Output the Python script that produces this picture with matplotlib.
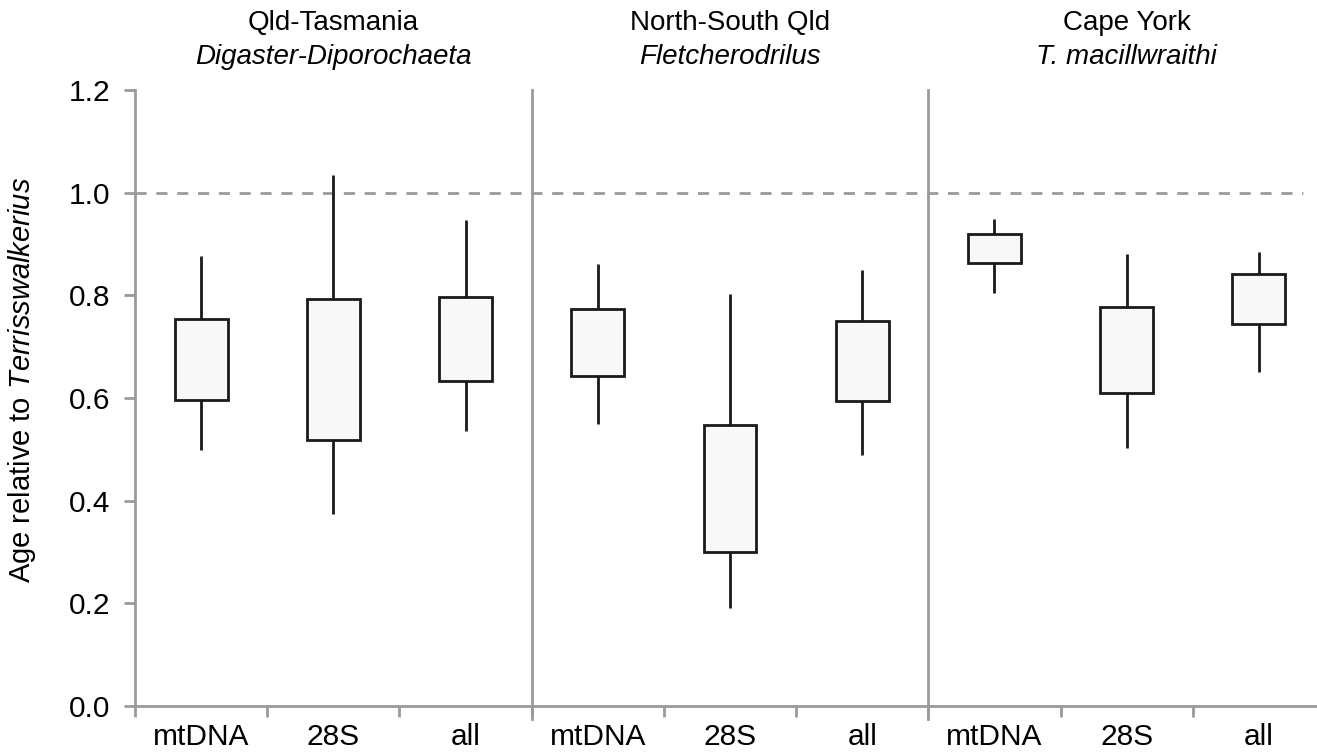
import numpy as np
import matplotlib
matplotlib.use("Agg")
from matplotlib import pyplot as plt

plt.rcParams['font.family'] = ['Liberation Sans', 'DejaVu Sans']
plt.rcParams['mathtext.fontset'] = 'custom'
plt.rcParams['mathtext.it'] = 'Liberation Sans:italic'
plt.rcParams['mathtext.rm'] = 'Liberation Sans'

# data
groups = ["Qld-Tasmania", "North-South Qld", "Cape York"]
taxa = ["Digaster-Diporochaeta", "Fletcherodrilus", "T. macillwraithi"]
markers = ["mtDNA", "28S", "all"] * 3

whisk_lo = [0.499, 0.374, 0.536, 0.549, 0.190, 0.489, 0.804, 0.502, 0.650]
box_lo   = [0.597, 0.519, 0.634, 0.642, 0.300, 0.595, 0.863, 0.609, 0.744]
box_hi   = [0.753, 0.793, 0.796, 0.774, 0.547, 0.750, 0.920, 0.777, 0.842]
whisk_hi = [0.877, 1.035, 0.946, 0.862, 0.803, 0.849, 0.949, 0.880, 0.885]

grey = "#9a9a9a"

fig = plt.figure(figsize=(13.17, 7.52), dpi=100)
ax = fig.add_axes([0.1025, 0.0612, 0.9036, 0.8191])

x = np.arange(len(markers)) + 0.5

# whiskers then boxes
ax.vlines(x, whisk_lo, whisk_hi, color="#1a1a1a", lw=2, zorder=2)
ax.bar(x, np.array(box_hi) - np.array(box_lo), bottom=box_lo, width=0.4,
       color="#f8f8f8", edgecolor="#1a1a1a", linewidth=2, zorder=3)

# reference line at 1.0
ax.plot([0, 8.83], [1.0, 1.0], color=grey, lw=2, ls=(0, (4, 3.5)), zorder=1)

# separators between groups
for sx in [3, 6]:
    ax.plot([sx, sx], [-0.025, 1.2], color=grey, lw=2, clip_on=False, zorder=1)

ax.set_xlim(0, 9)
ax.set_ylim(0, 1.2)
ax.set_yticks(np.arange(0, 1.21, 0.2))
ax.set_yticklabels(["%.1f" % v for v in np.arange(0, 1.21, 0.2)], fontsize=21.5)
ax.set_xticks(np.arange(0, 10, 1))
ax.set_xticklabels([])
ax.set_xticks(x, minor=True)
ax.set_xticklabels(markers, minor=True, fontsize=21.5)
ax.tick_params(axis="x", which="minor", length=0, pad=12)
ax.tick_params(axis="x", which="major", length=8, width=2, color=grey, direction="out")
ax.tick_params(axis="y", length=8, width=2, color=grey, direction="out", pad=10)

for s in ["top", "right"]:
    ax.spines[s].set_visible(False)
for s in ["left", "bottom"]:
    ax.spines[s].set_color(grey)
    ax.spines[s].set_linewidth(2)

ax.set_ylabel(r"Age relative to $\it{Terrisswalkerius}$", fontsize=21, va="center")
ax.yaxis.set_label_coords(-0.095, 0.53)

for i in range(3):
    cx = 3 * i + 1.5
    ax.text(cx, 1.33, groups[i], ha="center", va="center", fontsize=20,
            transform=ax.transData, clip_on=False)
    ax.text(cx, 1.265, taxa[i], ha="center", va="center", fontsize=20,
            style="italic", transform=ax.transData, clip_on=False)

fig.savefig("out.png", dpi=100)
